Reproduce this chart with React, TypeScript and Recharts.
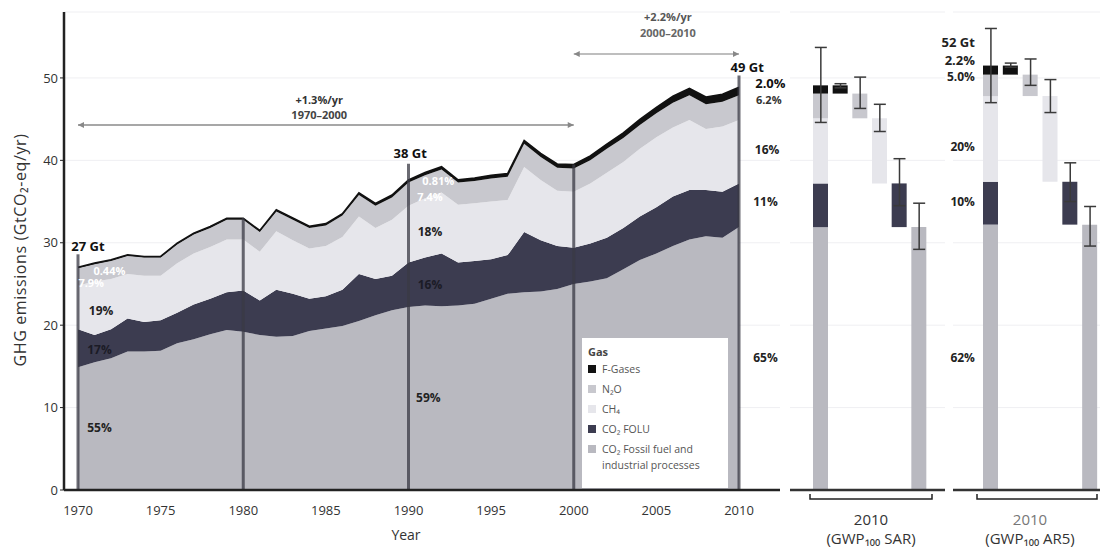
import React from "react";
import {
  AreaChart,
  Area,
  XAxis,
  YAxis,
  CartesianGrid,
  ReferenceLine,
  ReferenceDot,
  ComposedChart,
  Bar,
  Line,
  ErrorBar,
} from "recharts";

// annual totals by gas group, GtCO2-eq/yr
const years = [
  1970, 1971, 1972, 1973, 1974, 1975, 1976, 1977, 1978, 1979, 1980, 1981, 1982, 1983,
  1984, 1985, 1986, 1987, 1988, 1989, 1990, 1991, 1992, 1993, 1994, 1995, 1996, 1997,
  1998, 1999, 2000, 2001, 2002, 2003, 2004, 2005, 2006, 2007, 2008, 2009, 2010,
];
const co2Fossil = [
  14.9, 15.5, 16.0, 16.8, 16.8, 16.9, 17.8, 18.3, 18.9, 19.4, 19.2, 18.8, 18.6, 18.7,
  19.3, 19.6, 19.9, 20.5, 21.2, 21.8, 22.2, 22.4, 22.3, 22.4, 22.6, 23.2, 23.8, 24.0,
  24.1, 24.4, 25.0, 25.3, 25.7, 26.8, 27.9, 28.7, 29.6, 30.4, 30.8, 30.6, 31.9,
];
const co2Folu = [
  4.6, 3.3, 3.5, 4.0, 3.6, 3.7, 3.7, 4.2, 4.3, 4.6, 5.0, 4.2, 5.7, 5.1,
  3.9, 3.9, 4.4, 5.7, 4.4, 4.2, 5.4, 5.8, 6.4, 5.2, 5.2, 4.8, 4.7, 7.3,
  6.2, 5.2, 4.4, 4.6, 4.9, 5.0, 5.3, 5.6, 6.0, 6.0, 5.6, 5.6, 5.3,
];
const ch4 = [
  5.3, 6.5, 6.1, 5.4, 5.6, 5.4, 6.0, 6.2, 6.3, 6.4, 6.2, 5.9, 7.1, 6.5,
  6.1, 6.1, 6.4, 7.0, 6.2, 6.8, 6.9, 7.2, 7.4, 7.0, 7.0, 7.0, 6.7, 7.9,
  7.3, 6.7, 6.8, 7.3, 7.9, 8.0, 8.2, 8.5, 8.4, 8.5, 7.4, 7.9, 7.7,
];
const n2o = [
  2.1, 2.1, 2.2, 2.2, 2.2, 2.2, 2.3, 2.3, 2.3, 2.4, 2.4, 2.4, 2.4, 2.5,
  2.5, 2.5, 2.6, 2.6, 2.7, 2.7, 2.8, 2.8, 2.8, 2.7, 2.7, 2.8, 2.8, 2.8,
  2.8, 2.8, 2.8, 2.8, 2.9, 2.9, 2.9, 2.9, 3.0, 3.0, 3.0, 3.0, 3.0,
];
const fGases = [
  0.12, 0.13, 0.13, 0.14, 0.14, 0.15, 0.15, 0.16, 0.17, 0.18, 0.18, 0.19, 0.19, 0.2,
  0.21, 0.22, 0.23, 0.25, 0.27, 0.29, 0.31, 0.32, 0.33, 0.34, 0.36, 0.38, 0.4, 0.42,
  0.44, 0.46, 0.5, 0.53, 0.57, 0.62, 0.67, 0.72, 0.78, 0.84, 0.89, 0.93, 0.98,
];

const xTicks = [1970, 1975, 1980, 1985, 1990, 1995, 2000, 2005, 2010];
const yTicks = [0, 10, 20, 30, 40, 50];

// vertical marker years and how high they reach
const markerYears = [1970, 1980, 1990, 2000, 2010];
const markerTops = [28.6, 33.0, 39.6, 39.5, 50.3];

// 2010 bars: total, then each gas on its own with uncertainty
const barCats = ["Total", "F-Gases", "N2O", "CH4", "FOLU", "Fossil"];
const sarBase = [0, 48.1, 45.1, 37.2, 31.9, 0];
const sarFossil = [31.9, 0, 0, 0, 0, 31.9];
const sarFolu = [5.3, 0, 0, 0, 5.3, 0];
const sarCh4 = [7.9, 0, 0, 7.9, 0, 0];
const sarN2o = [3.0, 0, 3.0, 0, 0, 0];
const sarFgas = [1.0, 1.0, 0, 0, 0, 0];
const sarLow = [44.6, 48.8, 46.3, 43.5, 34.5, 29.2];
const sarHigh = [53.7, 49.3, 50.1, 46.8, 40.2, 34.8];

const ar5Base = [0, 50.4, 47.8, 37.4, 32.2, 0];
const ar5Fossil = [32.2, 0, 0, 0, 0, 32.2];
const ar5Folu = [5.2, 0, 0, 0, 5.2, 0];
const ar5Ch4 = [10.4, 0, 0, 10.4, 0, 0];
const ar5N2o = [2.6, 0, 2.6, 0, 0, 0];
const ar5Fgas = [1.1, 1.1, 0, 0, 0, 0];
const ar5Low = [47.0, 51.3, 49.1, 45.8, 35.0, 29.6];
const ar5High = [56.0, 51.8, 52.3, 49.8, 39.7, 34.4];

const C = {
  fossil: "#b9b9c0",
  folu: "#3c3c50",
  ch4: "#e6e6eb",
  n2o: "#c8c8ce",
  fgas: "#111111",
};
const FONT = "'Open Sans', 'DejaVu Sans', sans-serif";

const mainData = years.map((year, i) => ({
  year,
  fossil: co2Fossil[i],
  folu: co2Folu[i],
  ch4: ch4[i],
  n2o: n2o[i],
  fgas: fGases[i],
}));

const buildBars = (base, fo, fl, c, n, f, lo, hi) =>
  barCats.map((cat, i) => ({
    cat,
    base: base[i],
    fossil: fo[i],
    folu: fl[i],
    ch4: c[i],
    n2o: n[i],
    fgas: f[i],
    mid: (lo[i] + hi[i]) / 2,
    err: [(hi[i] - lo[i]) / 2, (hi[i] - lo[i]) / 2],
  }));

const sarData = buildBars(sarBase, sarFossil, sarFolu, sarCh4, sarN2o, sarFgas, sarLow, sarHigh);
const ar5Data = buildBars(ar5Base, ar5Fossil, ar5Folu, ar5Ch4, ar5N2o, ar5Fgas, ar5Low, ar5High);

// text annotations on the time series: [year, value, text, colour, size]
const notes = [
  [1970.6, 29.5, "27 Gt", "#111", 13],
  [1971.9, 26.6, "0.44%", "#fff", 11],
  [1970.8, 25.1, "7.9%", "#fff", 11],
  [1971.4, 21.8, "19%", "#222", 12],
  [1971.3, 17.0, "17%", "#1b1b26", 12],
  [1971.3, 7.5, "55%", "#222", 12],
  [1990.1, 40.9, "38 Gt", "#111", 13],
  [1991.8, 37.5, "0.81%", "#fff", 11],
  [1991.3, 35.6, "7.4%", "#fff", 11],
  [1991.3, 31.3, "18%", "#222", 12],
  [1991.3, 24.9, "16%", "#1b1b26", 12],
  [1991.2, 11.2, "59%", "#222", 12],
  [2010.5, 51.3, "49 Gt", "#111", 13],
  [2011.9, 49.3, "2.0%", "#111", 13],
  [2011.8, 47.3, "6.2%", "#333", 11],
  [2011.7, 41.3, "16%", "#222", 12],
  [2011.6, 35.0, "11%", "#222", 12],
  [2011.6, 16.1, "65%", "#222", 12],
  [1984.6, 47.3, "+1.3%/yr", "#333", 11],
  [1984.6, 45.5, "1970–2000", "#444", 11],
  [2005.7, 57.4, "+2.2%/yr", "#555", 11],
  [2005.7, 55.5, "2000–2010", "#666", 11],
];

// AR5 bar labels sit left of the total bar: [value, text, size]
const ar5Notes = [
  [54.3, "52 Gt", 13],
  [52.1, "2.2%", 13],
  [50.1, "5.0%", 12],
  [41.6, "20%", 12],
  [35.0, "10%", 12],
  [16.0, "62%", 12],
];

const arrowHead = (dir) => (p) => {
  const { cx, cy } = p;
  const d = dir < 0 ? `M${cx} ${cy} l6 -3 l0 6 z` : `M${cx} ${cy} l-6 -3 l0 6 z`;
  return <path d={d} fill="#888" />;
};

function GasPanel({ data, left, width, padLeft, padRight, labels }) {
  return (
    <div style={{ position: "absolute", left, top: 0 }}>
      <ComposedChart
        width={width}
        height={553}
        data={data}
        barSize={15}
        margin={{ top: 12, right: 0, bottom: 23, left: 0 }}
      >
        <CartesianGrid vertical={false} stroke="#efeff2" />
        <XAxis
          dataKey="cat"
          type="category"
          padding={{ left: padLeft, right: padRight }}
          height={40}
          tick={false}
          tickLine={false}
          axisLine={{ stroke: "#333", strokeWidth: 2.5 }}
        />
        <YAxis hide domain={[0, 58]} ticks={yTicks} />
        <Bar dataKey="base" stackId="s" fill="transparent" isAnimationActive={false} />
        <Bar dataKey="fossil" stackId="s" fill={C.fossil} isAnimationActive={false} />
        <Bar dataKey="folu" stackId="s" fill={C.folu} isAnimationActive={false} />
        <Bar dataKey="ch4" stackId="s" fill={C.ch4} isAnimationActive={false} />
        <Bar dataKey="n2o" stackId="s" fill={C.n2o} isAnimationActive={false} />
        <Bar dataKey="fgas" stackId="s" fill={C.fgas} isAnimationActive={false} />
        <Line dataKey="mid" stroke="none" dot={false} isAnimationActive={false}>
          <ErrorBar dataKey="err" width={6} stroke="#3a3a3a" strokeWidth={1.5} direction="y" />
        </Line>
        {labels &&
          labels.map(([v, t, s]) => (
            <ReferenceDot
              key={t}
              x="Total"
              y={v}
              r={0}
              fill="none"
              stroke="none"
              ifOverflow="visible"
              label={{ value: t, position: "left", offset: 16, fill: "#222", fontSize: s, fontWeight: 700, fontFamily: FONT }}
            />
          ))}
      </ComposedChart>
    </div>
  );
}

const legendItems = [
  [C.fgas, "F-Gases"],
  [C.n2o, "N₂O"],
  [C.ch4, "CH₄"],
  [C.folu, "CO₂ FOLU"],
  [C.fossil, "CO₂ Fossil fuel and industrial processes"],
];

export default function App() {
  return (
    <div style={{ position: "absolute", left: 0, top: 0, width: 1100, height: 553, background: "#fff", fontFamily: FONT }}>
      <style>{`.recharts-surface{overflow:visible}`}</style>
      <div style={{ position: "absolute", left: 0, top: 0 }}>
        <AreaChart width={790} height={553} data={mainData} margin={{ top: 12, right: 10, bottom: 23, left: 24 }}>
          <CartesianGrid vertical={false} stroke="#efeff2" />
          <XAxis
            dataKey="year"
            type="number"
            domain={[1970, 2010]}
            ticks={xTicks}
            padding={{ left: 14, right: 41 }}
            height={40}
            tickLine={false}
            tickMargin={10}
            axisLine={{ stroke: "#222", strokeWidth: 2.5 }}
            tick={{ fill: "#333", fontSize: 13, fontFamily: FONT }}
          />
          <YAxis
            domain={[0, 58]}
            ticks={yTicks}
            width={40}
            tickSize={4}
            tickLine={{ stroke: "#222" }}
            axisLine={{ stroke: "#222", strokeWidth: 2.5 }}
            tick={{ fill: "#333", fontSize: 13, fontFamily: FONT }}
          />
          <Area type="linear" dataKey="fossil" stackId="1" stroke="none" fill={C.fossil} fillOpacity={1} isAnimationActive={false} />
          <Area type="linear" dataKey="folu" stackId="1" stroke="none" fill={C.folu} fillOpacity={1} isAnimationActive={false} />
          <Area type="linear" dataKey="ch4" stackId="1" stroke="none" fill={C.ch4} fillOpacity={1} isAnimationActive={false} />
          <Area type="linear" dataKey="n2o" stackId="1" stroke="none" fill={C.n2o} fillOpacity={1} isAnimationActive={false} />
          <Area type="linear" dataKey="fgas" stackId="1" stroke="#111" strokeWidth={1.6} fill={C.fgas} fillOpacity={1} isAnimationActive={false} />
          {markerYears.map((yr, i) => (
            <ReferenceLine
              key={yr}
              segment={[{ x: yr, y: 0 }, { x: yr, y: markerTops[i] }]}
              stroke="#3a3a44"
              strokeOpacity={0.75}
              strokeWidth={3}
            />
          ))}
          <ReferenceLine segment={[{ x: 1970, y: 44.3 }, { x: 2000, y: 44.3 }]} stroke="#8a8a8a" strokeWidth={1.5} />
          <ReferenceLine segment={[{ x: 2000, y: 52.9 }, { x: 2010, y: 52.9 }]} stroke="#a8a8a8" strokeWidth={1.5} />
          <ReferenceDot x={1970} y={44.3} r={3} shape={arrowHead(-1)} />
          <ReferenceDot x={2000} y={44.3} r={3} shape={arrowHead(1)} />
          <ReferenceDot x={2000} y={52.9} r={3} shape={arrowHead(-1)} />
          <ReferenceDot x={2010} y={52.9} r={3} shape={arrowHead(1)} />
          {notes.map(([x, y, t, c, s]) => (
            <ReferenceDot
              key={t + x}
              x={x}
              y={y}
              r={0}
              fill="none"
              stroke="none"
              ifOverflow="visible"
              label={{ value: t, position: "center", fill: c, fontSize: s, fontWeight: 700, fontFamily: FONT }}
            />
          ))}
        </AreaChart>
      </div>

      <GasPanel data={sarData} left={790} width={155} padLeft={21} padRight={16} />
      <GasPanel data={ar5Data} left={953} width={147} padLeft={28} padRight={0} labels={ar5Notes} />

      <svg width={1100} height={553} style={{ position: "absolute", left: 0, top: 0, pointerEvents: "none" }}>
        <text
          transform="translate(22,250) rotate(-90)"
          textAnchor="middle"
          dominantBaseline="middle"
          fontSize={16}
          letterSpacing={0.6}
          fill="#333"
          fontFamily={FONT}
        >
          GHG emissions (GtCO₂-eq/yr)
        </text>
        <text x={406} y={540} textAnchor="middle" fontSize={14} fill="#333" fontFamily={FONT}>
          Year
        </text>
        <path d="M810 494 L810 499 L932 499 L932 494" fill="none" stroke="#222" strokeWidth={1.5} />
        <path d="M977 494 L977 499 L1097 499 L1097 494" fill="none" stroke="#222" strokeWidth={1.5} />
        <text x={871} y={525} textAnchor="middle" fontSize={15} fill="#333" fontFamily={FONT}>2010</text>
        <text x={871} y={544} textAnchor="middle" fontSize={15} fill="#333" fontFamily={FONT}>(GWP₁₀₀ SAR)</text>
        <text x={1030} y={525} textAnchor="middle" fontSize={15} fill="#777" fontFamily={FONT}>2010</text>
        <text x={1030} y={544} textAnchor="middle" fontSize={15} fill="#333" fontFamily={FONT}>(GWP₁₀₀ AR5)</text>
      </svg>

      <div
        style={{
          position: "absolute",
          left: 582,
          top: 338,
          width: 146,
          height: 150,
          background: "#fff",
          boxSizing: "border-box",
          padding: "4px 6px",
          fontSize: 10.5,
          color: "#555",
          lineHeight: "19px",
        }}
      >
        <div style={{ fontWeight: 700, color: "#444", fontSize: 11 }}>Gas</div>
        {legendItems.map(([c, t]) => (
          <div key={t} style={{ display: "flex", alignItems: "flex-start", lineHeight: "16px", marginBottom: 4 }}>
            <span style={{ display: "inline-block", width: 8, height: 8, background: c, marginTop: 4, marginRight: 6, flex: "none" }} />
            <span>{t}</span>
          </div>
        ))}
      </div>
    </div>
  );
}
